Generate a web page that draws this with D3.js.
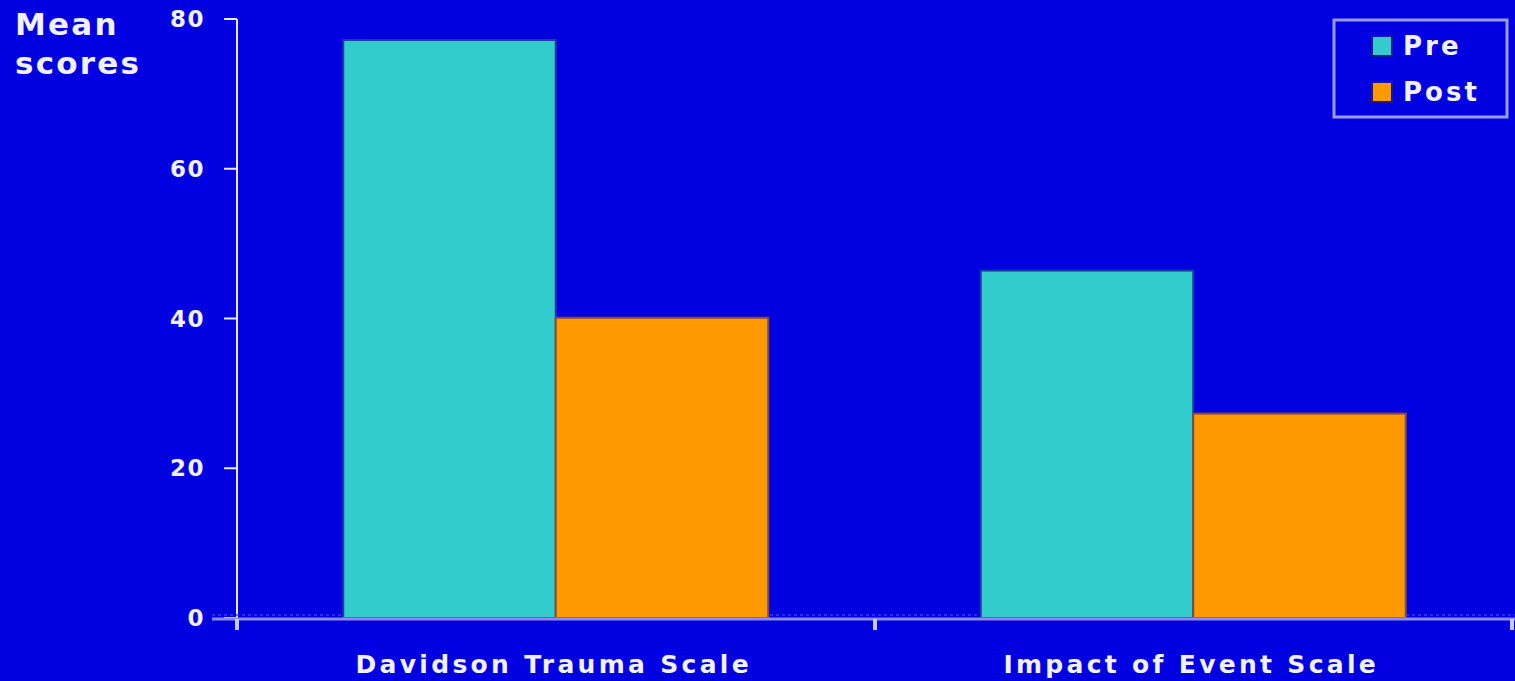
<!DOCTYPE html>
<html><head><meta charset="utf-8">
<script src="https://cdn.jsdelivr.net/npm/d3@7"></script>
<style>html,body{margin:0;padding:0;background:#0000e0;overflow:hidden}</style>
</head><body>
<script>
const categories = ["Davidson Trauma Scale", "Impact of Event Scale"];
const seriesNames = ["Pre", "Post"];
const preValues = [77.2, 46.4];
const postValues = [40.1, 27.3];
const yTicks = [0, 20, 40, 60, 80];
const colors = ["#33cccc", "#ff9900"];

const W = 1515, H = 681;
const svg = d3.select("body").append("svg").attr("width", W).attr("height", H);
svg.append("rect").attr("width", W).attr("height", H).attr("fill", "#0000e0");

const x0 = d3.scaleBand().domain(categories).range([237, 1512]).paddingInner(0).paddingOuter(0);
const x1 = d3.scaleBand().domain(seriesNames).range([0, x0.bandwidth()]).paddingInner(0).paddingOuter(0.5);
const y = d3.scaleLinear().domain([0, 80]).range([618, 19]);

const font = "DejaVu Sans, Verdana, sans-serif";

// y axis
svg.append("line").attr("x1", 237).attr("x2", 237).attr("y1", y(80)).attr("y2", 630)
  .attr("stroke", "#e8e8ff").attr("stroke-width", 2);
yTicks.forEach(t => {
  svg.append("line").attr("x1", 224).attr("x2", 237).attr("y1", y(t)).attr("y2", y(t))
    .attr("stroke", "#e8e8ff").attr("stroke-width", 2);
  svg.append("text").attr("x", 205).attr("y", y(t)).attr("dy", "0.35em")
    .attr("text-anchor", "end").attr("fill", "#f0f0ff").attr("font-family", font)
    .attr("font-weight", "bold").attr("font-size", 23).attr("letter-spacing", 1.5).text(t);
});

// zero dotted gridline
svg.append("line").attr("x1", 212).attr("x2", 1515).attr("y1", 615).attr("y2", 615)
  .attr("stroke", "#3a3af0").attr("stroke-width", 1.5).attr("stroke-dasharray", "3,3");

// bars
const data = categories.map((c, i) => ({cat: c, vals: [preValues[i], postValues[i]]}));
data.forEach(d => {
  d.vals.forEach((v, j) => {
    svg.append("rect")
      .attr("x", x0(d.cat) + x1(seriesNames[j]))
      .attr("y", y(v))
      .attr("width", x1.bandwidth())
      .attr("height", y(0) - y(v))
      .attr("fill", colors[j])
      .attr("stroke", j === 0 ? "#1a3c9a" : "#8a4a3a")
      .attr("stroke-width", 2);
  });
});

// x axis
svg.append("line").attr("x1", 212).attr("x2", 1515).attr("y1", 619).attr("y2", 619)
  .attr("stroke", "#8c8cf0").attr("stroke-width", 3);
[237, 875, 1512].forEach(px => {
  svg.append("line").attr("x1", px).attr("x2", px).attr("y1", 619).attr("y2", 630)
    .attr("stroke", "#c8c8ff").attr("stroke-width", 4);
});
categories.forEach(c => {
  svg.append("text").attr("x", x0(c) + x0.bandwidth() / 2 - 2).attr("y", 673)
    .attr("text-anchor", "middle").attr("fill", "#f0f0ff").attr("font-family", font)
    .attr("font-weight", "bold").attr("font-size", 25).attr("letter-spacing", 3.3).text(c);
});

// y label
svg.append("text").attr("x", 15).attr("y", 35).attr("fill", "#f0f0ff").attr("font-family", font)
  .attr("font-weight", "bold").attr("font-size", 31).attr("letter-spacing", 2.2).text("Mean");
svg.append("text").attr("x", 15).attr("y", 74).attr("fill", "#f0f0ff").attr("font-family", font)
  .attr("font-weight", "bold").attr("font-size", 31).attr("letter-spacing", 2.2).text("scores");

// legend
const lg = svg.append("g");
lg.append("rect").attr("x", 1334).attr("y", 20).attr("width", 173).attr("height", 97)
  .attr("fill", "none").attr("stroke", "#9a9af0").attr("stroke-width", 3);
seriesNames.forEach((s, i) => {
  const yy = 46 + i * 46;
  lg.append("rect").attr("x", 1372).attr("y", yy - 10).attr("width", 20).attr("height", 20)
    .attr("fill", colors[i]).attr("stroke", "#1a1a90").attr("stroke-width", 2);
  lg.append("text").attr("x", 1403).attr("y", yy).attr("dy", "0.36em")
    .attr("fill", "#f0f0ff").attr("font-family", font).attr("font-weight", "bold")
    .attr("font-size", 26).attr("letter-spacing", 3).text(s);
});
</script>
</body></html>
